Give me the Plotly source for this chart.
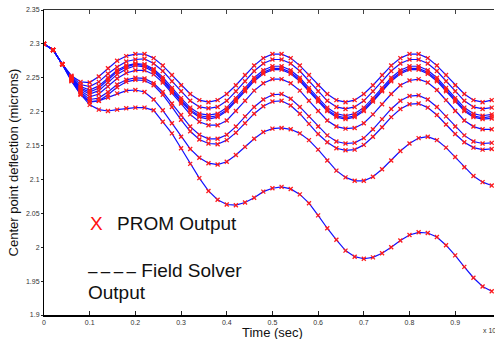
import plotly.graph_objects as go

time_s = [round(i * 0.02, 2) for i in range(50)]

curve_1 = [2.300, 2.291, 2.270, 2.253, 2.244, 2.243, 2.252, 2.264, 2.275, 2.282,
           2.285, 2.285, 2.279, 2.268, 2.254, 2.239, 2.226, 2.217, 2.214, 2.217,
           2.226, 2.239, 2.254, 2.268, 2.279, 2.285, 2.285, 2.279, 2.268, 2.254,
           2.239, 2.226, 2.217, 2.214, 2.217, 2.226, 2.239, 2.254, 2.268, 2.279,
           2.285, 2.285, 2.279, 2.268, 2.254, 2.239, 2.226, 2.217, 2.214, 2.217]
curve_2 = [2.300, 2.291, 2.270, 2.252, 2.240, 2.237, 2.244, 2.256, 2.266, 2.274,
           2.277, 2.278, 2.271, 2.260, 2.245, 2.230, 2.216, 2.207, 2.205, 2.207,
           2.216, 2.230, 2.245, 2.260, 2.271, 2.277, 2.277, 2.271, 2.260, 2.245,
           2.230, 2.216, 2.207, 2.204, 2.207, 2.216, 2.230, 2.245, 2.260, 2.271,
           2.277, 2.277, 2.271, 2.260, 2.245, 2.230, 2.216, 2.207, 2.204, 2.206]
curve_3 = [2.300, 2.291, 2.270, 2.251, 2.237, 2.232, 2.238, 2.250, 2.261, 2.268,
           2.271, 2.270, 2.263, 2.251, 2.235, 2.220, 2.206, 2.197, 2.195, 2.197,
           2.206, 2.220, 2.235, 2.250, 2.261, 2.267, 2.267, 2.261, 2.250, 2.235,
           2.220, 2.206, 2.197, 2.194, 2.197, 2.206, 2.220, 2.235, 2.250, 2.261,
           2.267, 2.267, 2.261, 2.250, 2.235, 2.220, 2.206, 2.197, 2.194, 2.196]
curve_4 = [2.300, 2.291, 2.270, 2.250, 2.235, 2.229, 2.235, 2.247, 2.259, 2.266,
           2.270, 2.268, 2.261, 2.248, 2.232, 2.217, 2.203, 2.194, 2.192, 2.194,
           2.203, 2.217, 2.232, 2.247, 2.258, 2.264, 2.264, 2.258, 2.247, 2.232,
           2.217, 2.203, 2.194, 2.191, 2.194, 2.203, 2.217, 2.232, 2.247, 2.258,
           2.264, 2.264, 2.258, 2.247, 2.232, 2.217, 2.203, 2.194, 2.191, 2.193]
curve_5 = [2.300, 2.291, 2.270, 2.250, 2.233, 2.226, 2.231, 2.243, 2.255, 2.263,
           2.268, 2.266, 2.259, 2.246, 2.230, 2.215, 2.201, 2.192, 2.189, 2.192,
           2.201, 2.215, 2.230, 2.245, 2.256, 2.262, 2.262, 2.256, 2.245, 2.230,
           2.215, 2.201, 2.192, 2.189, 2.192, 2.201, 2.215, 2.230, 2.245, 2.256,
           2.262, 2.262, 2.256, 2.245, 2.230, 2.215, 2.201, 2.192, 2.189, 2.190]
curve_6 = [2.300, 2.291, 2.270, 2.249, 2.231, 2.222, 2.226, 2.237, 2.249, 2.257,
           2.261, 2.261, 2.255, 2.243, 2.228, 2.212, 2.196, 2.185, 2.180, 2.180,
           2.187, 2.201, 2.216, 2.231, 2.242, 2.248, 2.248, 2.242, 2.231, 2.216,
           2.201, 2.187, 2.178, 2.175, 2.176, 2.183, 2.196, 2.211, 2.226, 2.239,
           2.246, 2.248, 2.243, 2.232, 2.217, 2.201, 2.187, 2.178, 2.174, 2.174]
curve_7 = [2.300, 2.291, 2.270, 2.248, 2.229, 2.218, 2.220, 2.229, 2.240, 2.247,
           2.250, 2.249, 2.242, 2.229, 2.212, 2.195, 2.178, 2.166, 2.160, 2.160,
           2.166, 2.178, 2.193, 2.207, 2.218, 2.225, 2.226, 2.219, 2.207, 2.193,
           2.178, 2.165, 2.156, 2.153, 2.154, 2.161, 2.174, 2.189, 2.204, 2.216,
           2.223, 2.224, 2.218, 2.207, 2.193, 2.178, 2.165, 2.156, 2.153, 2.154]
curve_8 = [2.300, 2.291, 2.270, 2.247, 2.227, 2.215, 2.216, 2.225, 2.236, 2.244,
           2.247, 2.246, 2.239, 2.225, 2.207, 2.188, 2.171, 2.159, 2.153, 2.152,
           2.158, 2.169, 2.183, 2.197, 2.208, 2.215, 2.216, 2.209, 2.197, 2.182,
           2.167, 2.155, 2.146, 2.143, 2.144, 2.151, 2.163, 2.177, 2.192, 2.204,
           2.211, 2.212, 2.206, 2.195, 2.181, 2.167, 2.155, 2.147, 2.144, 2.145]
curve_9 = [2.300, 2.291, 2.270, 2.246, 2.225, 2.214, 2.216, 2.221, 2.227, 2.231,
           2.232, 2.229, 2.218, 2.202, 2.183, 2.163, 2.145, 2.132, 2.124, 2.122,
           2.126, 2.136, 2.148, 2.160, 2.170, 2.175, 2.176, 2.174, 2.168, 2.158,
           2.144, 2.128, 2.113, 2.103, 2.098, 2.098, 2.104, 2.115, 2.128, 2.142,
           2.153, 2.161, 2.163, 2.158, 2.147, 2.133, 2.118, 2.105, 2.096, 2.091]
curve_10 = [2.300, 2.291, 2.270, 2.245, 2.226, 2.210, 2.203, 2.201, 2.203, 2.205,
            2.206, 2.206, 2.202, 2.185, 2.168, 2.146, 2.123, 2.102, 2.083, 2.070,
            2.063, 2.062, 2.066, 2.073, 2.082, 2.087, 2.089, 2.086, 2.078, 2.065,
            2.047, 2.028, 2.011, 1.995, 1.986, 1.983, 1.985, 1.991, 2.000, 2.010,
            2.018, 2.022, 2.021, 2.015, 2.003, 1.988, 1.971, 1.955, 1.942, 1.935]

curves = [curve_1, curve_2, curve_3, curve_4, curve_5,
          curve_6, curve_7, curve_8, curve_9, curve_10]

x_ticks = [0, 0.1, 0.2, 0.3, 0.4, 0.5, 0.6, 0.7, 0.8, 0.9]
x_tick_labels = ["0", "0.1", "0.2", "0.3", "0.4", "0.5", "0.6", "0.7", "0.8", "0.9"]
y_ticks = [1.9, 1.95, 2.0, 2.05, 2.1, 2.15, 2.2, 2.25, 2.3, 2.35]
y_tick_labels = ["1.9", "1.95", "2", "2.05", "2.1", "2.15", "2.2", "2.25", "2.3", "2.35"]

FONT = "Liberation Sans, Arial, sans-serif"

fig = go.Figure()
for c in curves:
    fig.add_trace(go.Scatter(x=time_s, y=c, mode="lines",
                             line=dict(color="#1010ff", width=1.2),
                             showlegend=False, hoverinfo="skip"))
for c in curves:
    fig.add_trace(go.Scatter(x=time_s, y=c, mode="markers",
                             marker=dict(symbol="x-thin", size=4,
                                         line=dict(color="#ff1a1a", width=1.3)),
                             showlegend=False, hoverinfo="skip"))
# helper trace for top axis
fig.add_trace(go.Scatter(x=[0], y=[2.3], xaxis="x2", mode="markers",
                         marker=dict(opacity=0), showlegend=False, hoverinfo="skip"))

fig.update_layout(
    width=495, height=339,
    margin=dict(l=44, r=1, t=10, b=24),
    paper_bgcolor="white", plot_bgcolor="white",
    font=dict(family=FONT, color="#111"),
    xaxis=dict(range=[0, 0.985], tickvals=x_ticks, ticktext=x_tick_labels,
               ticks="inside", ticklen=4, tickwidth=1, tickcolor="#222",
               showline=True, linewidth=2, linecolor="black",
               showgrid=False, zeroline=False,
               tickfont=dict(size=7, color="#333", family=FONT)),
    xaxis2=dict(range=[0, 0.985], overlaying="x", side="top", tickvals=x_ticks,
                ticks="inside", ticklen=4, tickwidth=1, tickcolor="#444",
                showticklabels=False, showline=True, linewidth=1, linecolor="#333",
                showgrid=False, zeroline=False),
    yaxis=dict(range=[1.9, 2.35], tickvals=y_ticks, ticktext=y_tick_labels,
               ticks="outside", ticklen=2, tickwidth=1, tickcolor="#222",
               showline=True, linewidth=1, linecolor="black",
               showgrid=False, zeroline=False,
               tickfont=dict(size=7, color="#333", family=FONT),
               title=dict(text="Center point deflection (microns)",
                          font=dict(size=13, color="#111"), standoff=4)),
)

dash = "<span style='font-size:17px'>\u2013\u2009\u2013\u2009\u2013\u2009\u2013</span>"
annotations = [
    dict(text="X", x=88, y=223, color="#ff1010"),
    dict(text="PROM Output", x=115, y=223, color="#111"),
    dict(text=dash + " Field Solver", x=86, y=270, color="#111"),
    dict(text="Output", x=86, y=292, color="#111"),
]
for a in annotations:
    fig.add_annotation(x=(a["x"] - 44) / 450, y=(315 - a["y"]) / 305,
                       xref="paper", yref="paper", text=a["text"], showarrow=False,
                       font=dict(size=19, color=a["color"], family=FONT),
                       xanchor="left", yanchor="middle")
fig.add_annotation(x=(272 - 44) / 450, y=(315 - 332) / 305, xref="paper", yref="paper",
                   text="Time (sec)", showarrow=False,
                   font=dict(size=13, color="#111", family=FONT),
                   xanchor="center", yanchor="middle")
fig.add_annotation(x=(481 - 44) / 450, y=(315 - 330) / 305, xref="paper", yref="paper",
                   text="x 10", showarrow=False, font=dict(size=7, color="#333", family=FONT),
                   xanchor="left", yanchor="middle")

fig.write_html("out.html", config={"displayModeBar": False},
               post_script="document.body.style.margin='0';document.body.style.overflow='hidden';")
